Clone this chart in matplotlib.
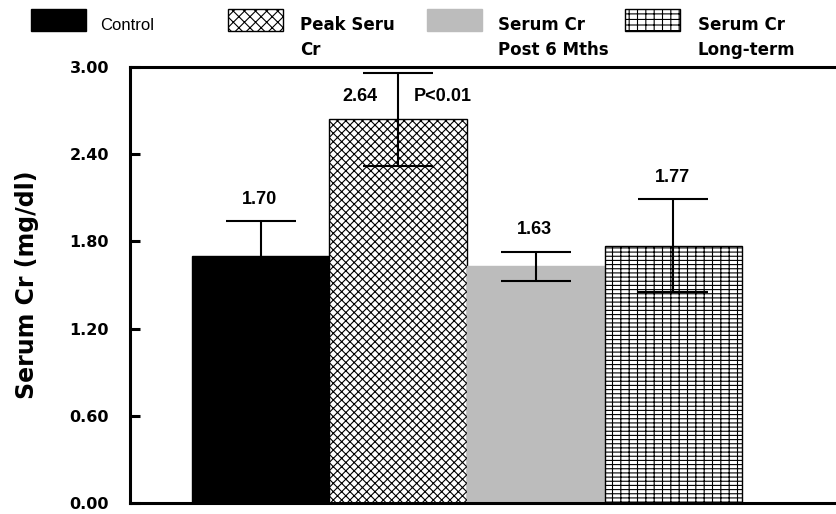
import numpy as np
import matplotlib.pyplot as plt
from matplotlib.patches import Rectangle

plt.rcParams['font.family'] = ['Liberation Sans', 'DejaVu Sans']
plt.rcParams['hatch.linewidth'] = 0.8

# data
groups = ['Control', 'Peak Seru\nCr', 'Serum Cr\nPost 6 Mths', 'Serum Cr\nLong-term']
means = [1.70, 2.64, 1.63, 1.77]
errors = [0.24, 0.32, 0.10, 0.32]
value_labels = ['1.70', '2.64', '1.63', '1.77']
yticks = [0.0, 0.6, 1.2, 1.8, 2.4, 3.0]

facecolors = ['black', 'white', '#bcbcbc', 'white']
edgecolors = ['black', 'black', '#bcbcbc', 'black']
hatches = [None, 'xxxx', None, '||----']
legend_hatches = [None, 'xxx', None, '||---']

W, H = 837, 514
fig = plt.figure(figsize=(W / 100, H / 100), dpi=100)
ax = fig.add_axes([130 / W, 11 / H, 1 - 130 / W + 0.01, 436 / H])

x = np.arange(len(means))
ax.bar(x, means, width=1.0, color=facecolors, edgecolor=edgecolors,
       hatch=hatches, linewidth=1.0, zorder=2)
ax.errorbar(x, means, yerr=errors, fmt='none', ecolor='black',
            elinewidth=1.5, capsize=25, capthick=1.5, zorder=3)

# value labels above the error bars
for i in range(len(means)):
    if i == 1:
        ax.text(x[i] - 0.28, 2.80, value_labels[i], ha='center', va='center',
                fontsize=13, fontweight='bold')
        ax.text(x[i] + 0.11, 2.80, 'P<0.01', ha='left', va='center',
                fontsize=13, fontweight='bold')
    else:
        ax.text(x[i] - 0.01, means[i] + errors[i] + 0.15, value_labels[i],
                ha='center', va='center', fontsize=13, fontweight='bold')

ax.set_xlim(-0.949, 4.25)
ax.set_ylim(0, 3.0)
ax.set_yticks(yticks)
ax.set_yticklabels(['%.2f' % t for t in yticks], fontsize=11.5,
                   fontweight='bold', family='DejaVu Sans')
ax.set_xticks([])
ax.tick_params(axis='y', direction='in', length=7, width=2.2, pad=15)
ax.set_ylabel('Serum Cr (mg/dl)', fontsize=17, fontweight='bold',
              family='DejaVu Sans')
ax.yaxis.set_label_coords(-0.127, 0.5)
ax.spines['right'].set_visible(False)
for s in ['left', 'top', 'bottom']:
    ax.spines[s].set_linewidth(2.2)

# legend row across the top
patch_x = [31, 228, 427, 625]
text_x = [100, 300, 498, 698]
for i in range(len(groups)):
    fig.add_artist(Rectangle((patch_x[i] / W, 1 - 31 / H), 55 / W, 22 / H,
                             transform=fig.transFigure, facecolor=facecolors[i],
                             edgecolor=edgecolors[i], hatch=legend_hatches[i],
                             linewidth=1.0))
    lines = groups[i].split('\n')
    for j, line in enumerate(lines):
        if i == 0:
            fig.text(text_x[i] / W, 1 - 25 / H, line, ha='left', va='center',
                     fontsize=12)
        else:
            fig.text(text_x[i] / W, 1 - (25 + 25 * j) / H, line, ha='left',
                     va='center', fontsize=12, fontweight='bold',
                     family='DejaVu Sans')

fig.savefig('out.png', dpi=100)
